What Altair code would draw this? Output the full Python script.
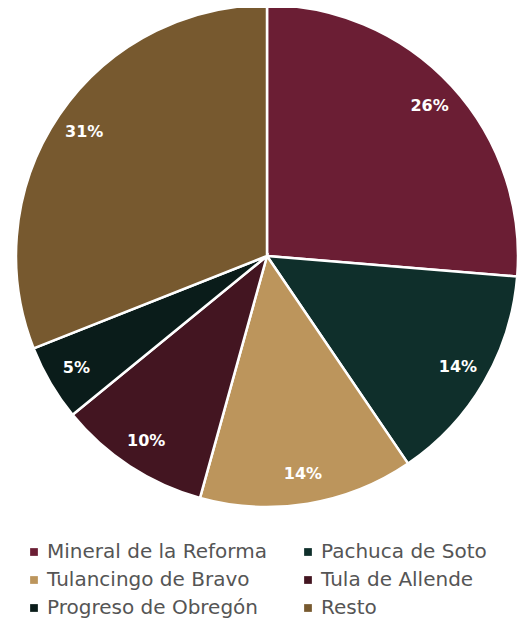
import altair as alt
import pandas as pd

categories = ["Mineral de la Reforma", "Pachuca de Soto", "Tulancingo de Bravo",
              "Tula de Allende", "Progreso de Obregón", "Resto"]
values = [26.3, 14.2, 13.8, 9.8, 4.9, 31.0]
labels = ["26%", "14%", "14%", "10%", "5%", "31%"]
colors = ["#6B1E34", "#0F2F2B", "#BC955C", "#431521", "#0A1C1A", "#77592F"]

# legend fills column-major; order domain so rows read as in the reference
legend_order = [0, 2, 4, 1, 3, 5]
dom = [categories[i] for i in legend_order]
rng = [colors[i] for i in legend_order]

df = pd.DataFrame({"cat": categories, "val": values, "lab": labels,
                   "ord": list(range(len(categories)))})

base = alt.Chart(df).encode(
    theta=alt.Theta("val:Q", stack=True),
    order=alt.Order("ord:Q"),
    x=alt.value(259),
    y=alt.value(248),
)

arcs = base.mark_arc(outerRadius=251, stroke="white", strokeWidth=2.5).encode(
    color=alt.Color("cat:N",
                    scale=alt.Scale(domain=dom, range=rng),
                    legend=alt.Legend(title=None, orient="none", legendX=16, legendY=534,
                                      columns=2, symbolType="square", symbolSize=60,
                                      labelFontSize=20, labelColor="#555555",
                                      labelFont="DejaVu Sans", rowPadding=8,
                                      columnPadding=31, labelLimit=400, labelOffset=3,
                                      symbolStrokeWidth=0))
)

text = base.mark_text(radius=221, font="DejaVu Sans", fontWeight="bold", fontSize=16,
                      color="white").encode(text="lab:N")

chart = (arcs + text).properties(
    width=509, height=612, autosize=alt.AutoSizeParams(type="none"), padding=0
).configure_view(stroke=None)

chart.save("out.html", embed_options={"renderer": "svg", "actions": False})
